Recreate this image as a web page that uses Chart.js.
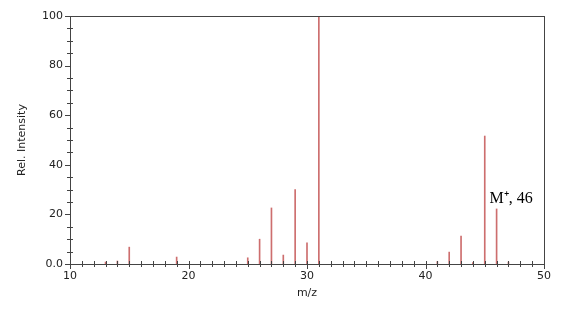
<!DOCTYPE html>
<html lang="en">
  <head>
    <meta charset="UTF-8" />
    <title>Mass spectrum</title>
    <script src="https://cdn.jsdelivr.net/npm/chart.js@4.4.1/dist/chart.umd.min.js"></script>
    <style>
      body { margin: 0; background: #fff; }
      #wrap { width: 566px; height: 310px; }
    </style>
  </head>
  <body>
    <div id="wrap"><canvas id="myChart" width="566" height="310"></canvas></div>
    <script>
      // m/z values and relative intensities
      const mz = [13, 14, 15, 19, 25, 26, 27, 28, 29, 30, 31, 41, 42, 43, 44, 45, 46, 47]
      const intensity = [0.8, 1.2, 6.8, 2.8, 2.5, 10, 22.6, 3.6, 30, 8.5, 100, 1, 4.8, 11.3, 0.6, 51.6, 22.2, 0.8]
      const xTickLabels = [10, 20, 30, 40, 50]
      const yTickLabels = ["0.0", "20", "40", "60", "80", "100"]
      const peakNote = { text: "M\u207A, 46", x: 45.4, y: 24.6 }

      const axisColor = "#444"
      const tickFont = { family: "DejaVu Sans", size: 11 }

      // draws the frame and major/minor ticks from the chart's scales
      const frameTicks = {
        id: "frameTicks",
        afterDraw(chart) {
          const { ctx, chartArea: a, scales } = chart
          ctx.save()
          ctx.strokeStyle = axisColor
          ctx.lineWidth = 1
          ctx.strokeRect(Math.round(a.left) + 0.5, Math.round(a.top) + 0.5, Math.round(a.right - a.left), Math.round(a.bottom - a.top))
          ctx.beginPath()
          for (let v = 10; v <= 50; v++) {
            const px = Math.round(scales.x.getPixelForValue(v)) + 0.5
            const major = v % 10 === 0
            ctx.moveTo(px, a.bottom - 3)
            ctx.lineTo(px, a.bottom + (major ? 5 : 3))
          }
          for (let v = 0; v <= 100; v += 5) {
            const py = Math.round(scales.y.getPixelForValue(v)) + 0.5
            const major = v % 20 === 0
            ctx.moveTo(a.left - (major ? 5 : 3), py)
            ctx.lineTo(a.left + (major ? 0 : 3), py)
          }
          ctx.stroke()
          ctx.fillStyle = "#000"
          ctx.font = "16px 'Liberation Serif'"
          ctx.textBaseline = "alphabetic"
          ctx.fillText(peakNote.text, scales.x.getPixelForValue(peakNote.x), scales.y.getPixelForValue(peakNote.y))
          ctx.restore()
        },
      }

      const ctx = document.getElementById("myChart").getContext("2d")
      const myChart = new Chart(ctx, {
        type: "bar",
        data: {
          datasets: [
            {
              data: mz.map((m, i) => ({ x: m, y: intensity[i] })),
              backgroundColor: "rgb(205, 110, 110)",
              barThickness: 1,
            },
          ],
        },
        options: {
          responsive: false,
          animation: false,
          layout: { padding: { top: 16, right: 22, left: 0, bottom: 0 } },
          plugins: { legend: { display: false }, tooltip: { enabled: false } },
          scales: {
            x: {
              type: "linear",
              offset: false,
              min: 10,
              max: 50,
              afterBuildTicks: (s) => { s.ticks = xTickLabels.map((v) => ({ value: v })) },
              afterFit: (s) => { s.height = 46 },
              ticks: { font: tickFont, color: "#222", padding: 6, maxRotation: 0 },
              grid: { display: false, drawTicks: false },
              border: { display: false },
              title: { display: true, text: "m/z", font: tickFont, color: "#222", padding: { top: 0, bottom: 10 } },
            },
            y: {
              min: 0,
              max: 100,
              afterBuildTicks: (s) => { s.ticks = yTickLabels.map((t) => ({ value: parseFloat(t) })) },
              afterFit: (s) => { s.width = 70 },
              ticks: {
                font: tickFont,
                color: "#222",
                padding: 7,
                callback: (v) => yTickLabels.find((t) => parseFloat(t) === v),
              },
              grid: { display: false, drawTicks: false },
              border: { display: false },
              title: { display: true, text: "Rel. Intensity", font: tickFont, color: "#222", padding: { top: 16, bottom: 0 } },
            },
          },
        },
        plugins: [frameTicks],
      })
    </script>
  </body>
</html>
